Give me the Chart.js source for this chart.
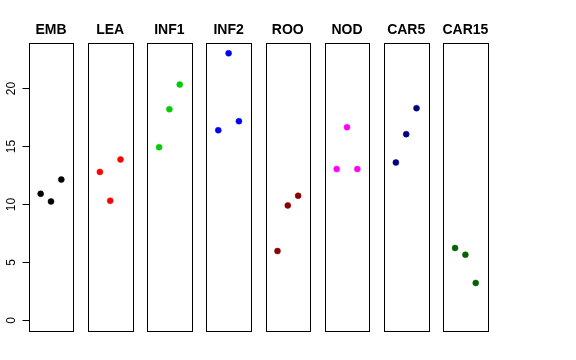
<!DOCTYPE html>
<html>
<head>
<meta charset="utf-8">
<script src="https://cdn.jsdelivr.net/npm/chart.js@4.4.0/dist/chart.umd.min.js"></script>
<style>
  html, body { margin: 0; padding: 0; background: #fff; }
  #wrap { position: relative; width: 576px; height: 360px; }
  #wrap canvas { position: absolute; left: 0; top: 0; }
</style>
</head>
<body>
<div id="wrap"></div>
<script>
// one panel per tissue, three replicates each
const groups = ['EMB', 'LEA', 'INF1', 'INF2', 'ROO', 'NOD', 'CAR5', 'CAR15'];
const colors = ['#000000', '#FF0000', '#00CD00', '#0000FF', '#8B0000', '#FF00FF', '#000080', '#006400'];
const reps = [1, 2, 3];

const EMB   = [10.90, 10.24, 12.13];
const LEA   = [12.79, 10.30, 13.86];
const INF1  = [14.92, 18.19, 20.31];
const INF2  = [16.38, 23.01, 17.16];
const ROO   = [5.97, 9.90, 10.73];
const NOD   = [13.03, 16.64, 13.03];
const CAR5  = [13.60, 16.04, 18.28];
const CAR15 = [6.23, 5.65, 3.22];
const values = [EMB, LEA, INF1, INF2, ROO, NOD, CAR5, CAR15];

const yTicks = [0, 5, 10, 15, 20];

// panel layout (like par(mfrow=c(1,8)))
const W = 576, H = 360;
const firstLeft = 28.7, pitch = 59.2, panelW = 44.6;
const panelTop = 42.7, panelBottom = 331;

const wrap = document.getElementById('wrap');

const panelPlugin = {
  id: 'panelDecor',
  afterDraw(chart) {
    const ctx = chart.ctx;
    const a = chart.chartArea;
    const idx = chart.options.plugins.panelDecor.index;
    ctx.save();
    // box
    ctx.strokeStyle = '#000';
    ctx.lineWidth = 1;
    ctx.strokeRect(Math.round(a.left) + 0.5, Math.round(a.top) + 0.5,
      Math.round(a.right) - Math.round(a.left), Math.round(a.bottom) - Math.round(a.top));
    // title
    ctx.fillStyle = '#000';
    ctx.font = 'bold 14px "Liberation Sans", Arial, sans-serif';
    ctx.textAlign = 'center';
    ctx.textBaseline = 'alphabetic';
    ctx.fillText(groups[idx], (a.left + a.right) / 2, a.top - 8.4);
    // y axis only on the first panel
    if (idx === 0) {
      const ys = chart.scales.y;
      const x0 = Math.round(a.left) + 0.5;
      ctx.beginPath();
      ctx.moveTo(x0, Math.round(ys.getPixelForValue(yTicks[0])) + 0.5);
      ctx.lineTo(x0, Math.round(ys.getPixelForValue(yTicks[yTicks.length - 1])) + 0.5);
      ctx.stroke();
      ctx.font = '12px "Liberation Sans", Arial, sans-serif';
      yTicks.forEach(v => {
        const y = Math.round(ys.getPixelForValue(v)) + 0.5;
        ctx.beginPath();
        ctx.moveTo(x0 - 7, y);
        ctx.lineTo(x0, y);
        ctx.stroke();
        ctx.save();
        ctx.translate(15, y);
        ctx.rotate(-Math.PI / 2);
        ctx.textAlign = 'center';
        ctx.fillText(String(v), 0, 0);
        ctx.restore();
      });
    }
    ctx.restore();
  }
};

groups.forEach((g, i) => {
  const canvas = document.createElement('canvas');
  canvas.width = W;
  canvas.height = H;
  wrap.appendChild(canvas);
  const left = firstLeft + i * pitch;
  new Chart(canvas.getContext('2d'), {
    type: 'scatter',
    data: {
      datasets: [{
        label: g,
        data: reps.map((r, j) => ({ x: r, y: values[i][j] })),
        backgroundColor: colors[i],
        borderColor: colors[i],
        borderWidth: 0.5,
        pointRadius: 3,
        pointHoverRadius: 3
      }]
    },
    options: {
      responsive: false,
      animation: false,
      events: [],
      layout: {
        padding: { left: left, right: W - left - panelW, top: panelTop, bottom: H - panelBottom }
      },
      scales: {
        x: { type: 'linear', display: false, min: -0.16, max: 4.16 },
        y: { type: 'linear', display: false, min: -0.92, max: 23.92 }
      },
      plugins: {
        legend: { display: false },
        tooltip: { enabled: false },
        panelDecor: { index: i }
      }
    },
    plugins: [panelPlugin]
  });
});
</script>
</body>
</html>
